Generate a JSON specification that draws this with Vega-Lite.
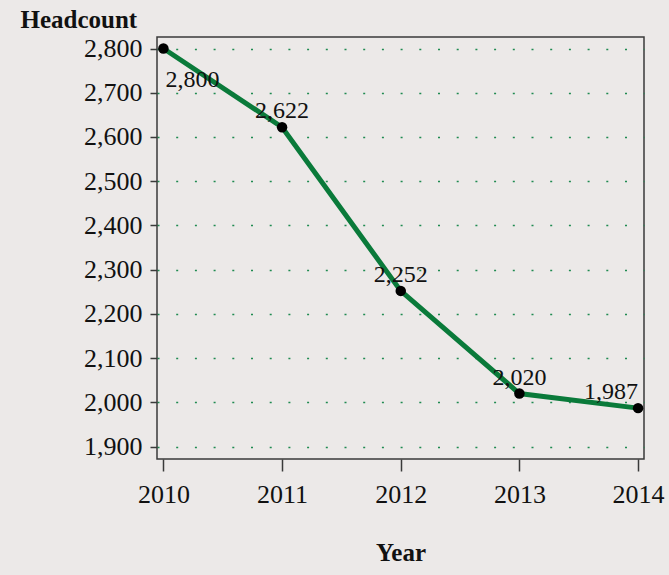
{
  "$schema": "https://vega.github.io/schema/vega-lite/v6.json",
  "width": 487,
  "height": 422,
  "autosize": {"type": "none"},
  "padding": {"left": 157, "top": 37, "right": 25, "bottom": 116},
  "background": "#ECE9E8",
  "config": {
    "view": {"stroke": "#3a3a3a", "strokeWidth": 1.5, "fill": "#ECE9E8"},
    "font": "Liberation Serif",
    "axis": {
      "labelFont": "Liberation Serif",
      "titleFont": "Liberation Serif",
      "labelColor": "#111111",
      "titleColor": "#111111",
      "tickColor": "#3a3a3a",
      "domain": false
    }
  },
  "data": {
    "values": [
      {"Year": 2010, "Headcount": 2800},
      {"Year": 2011, "Headcount": 2622},
      {"Year": 2012, "Headcount": 2252},
      {"Year": 2013, "Headcount": 2020},
      {"Year": 2014, "Headcount": 1987}
    ]
  },
  "encoding": {
    "x": {
      "field": "Year",
      "type": "quantitative",
      "scale": {"domain": [2009.946, 2014.05], "nice": false, "zero": false},
      "axis": {
        "values": [2010, 2011, 2012, 2013, 2014],
        "format": "d",
        "grid": false,
        "tickSize": 12,
        "tickWidth": 1.5,
        "labelFontSize": 26,
        "labelPadding": 10,
        "title": "Year",
        "titleFontSize": 25,
        "titleFontWeight": "bold",
        "titleBaseline": "alphabetic",
        "titleY": 101
      }
    },
    "y": {
      "field": "Headcount",
      "type": "quantitative",
      "scale": {"domain": [1872, 2826], "nice": false, "zero": false},
      "axis": {
        "values": [1900, 2000, 2100, 2200, 2300, 2400, 2500, 2600, 2700, 2800],
        "format": ",d",
        "grid": true,
        "gridColor": "#1f8a50",
        "gridDash": [2, 16.7],
        "gridWidth": 1.5,
        "tickSize": 7,
        "tickWidth": 1.5,
        "labelFontSize": 26,
        "labelPadding": 8,
        "title": "Headcount",
        "titleAngle": 0,
        "titleFontSize": 25,
        "titleFontWeight": "bold",
        "titleAlign": "left",
        "titleBaseline": "alphabetic",
        "titleX": -137,
        "titleY": -10
      }
    }
  },
  "layer": [
    {
      "mark": {"type": "line", "color": "#0a7a3a", "strokeWidth": 5}
    },
    {
      "mark": {"type": "point", "filled": true, "color": "#000000", "size": 110, "opacity": 1}
    },
    {
      "transform": [{"filter": "datum.Year >= 2011 && datum.Year <= 2013"}],
      "mark": {"type": "text", "fontSize": 24, "baseline": "alphabetic", "align": "center", "dy": -9, "color": "#111111"},
      "encoding": {"text": {"field": "Headcount", "type": "quantitative", "format": ",d"}}
    },
    {
      "transform": [{"filter": "datum.Year == 2010"}],
      "mark": {"type": "text", "fontSize": 24, "baseline": "alphabetic", "align": "center", "dx": 29, "dy": 38, "color": "#111111"},
      "encoding": {"text": {"field": "Headcount", "type": "quantitative", "format": ",d"}}
    },
    {
      "transform": [{"filter": "datum.Year == 2014"}],
      "mark": {"type": "text", "fontSize": 24, "baseline": "alphabetic", "align": "right", "dx": 0, "dy": -9, "color": "#111111"},
      "encoding": {"text": {"field": "Headcount", "type": "quantitative", "format": ",d"}}
    }
  ]
}
